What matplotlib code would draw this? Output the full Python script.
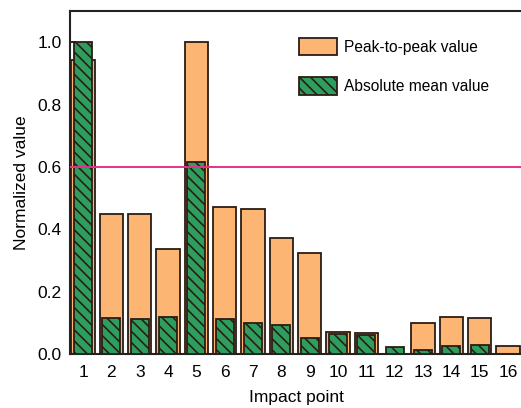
import matplotlib
matplotlib.use("Agg")
import matplotlib.pyplot as plt
import numpy as np
from matplotlib.patches import Patch

plt.rcParams["font.family"] = ["Liberation Sans", "DejaVu Sans"]
plt.rcParams["hatch.linewidth"] = 1.2

# Normalized vibration features per impact point
points = np.arange(1, 17)
peak_to_peak = [0.942, 0.449, 0.449, 0.336, 1.0, 0.470, 0.466, 0.373,
                0.323, 0.071, 0.066, 0.0, 0.100, 0.118, 0.115, 0.024]
abs_mean = [1.0, 0.115, 0.112, 0.120, 0.617, 0.111, 0.100, 0.094,
            0.050, 0.065, 0.061, 0.023, 0.013, 0.024, 0.030, 0.0]
threshold = 0.6

ORANGE = "#FDB574"
GREEN = "#2E9E5F"
EDGE = "#2B1D14"
PINK = "#E8308A"

fig = plt.figure(figsize=(5.21, 4.08), dpi=100)
ax = fig.add_axes([0.1344, 0.1324, 0.8695, 0.8407])

ax.bar(points, peak_to_peak, width=0.82, color=ORANGE, edgecolor=EDGE,
       linewidth=1.3, zorder=2)
ax.bar(points, abs_mean, width=0.64, color=GREEN, edgecolor=EDGE,
       linewidth=1.3, hatch="\\\\\\", zorder=3)
ax.axhline(threshold, color=PINK, linewidth=1.4, zorder=4)

ax.set_xlim(0.54, 16.53)
ax.set_ylim(0, 1.10)
ax.set_xticks(points)
ax.set_yticks([0.0, 0.2, 0.4, 0.6, 0.8, 1.0])
ax.set_yticklabels(["0.0", "0.2", "0.4", "0.6", "0.8", "1.0"])
ax.tick_params(axis="y", direction="in", length=4, width=1.2, labelsize=12.5, pad=6)
ax.tick_params(axis="x", length=0, labelsize=12.5, pad=8)
ax.spines["right"].set_visible(False)
for s in ("left", "top", "bottom"):
    ax.spines[s].set_linewidth(1.5)
    ax.spines[s].set_color("#222222")

ax.set_xlabel("Impact point", fontsize=12.5, labelpad=7)
ax.set_ylabel("Normalized value", fontsize=12.5, labelpad=6)

handles = [
    Patch(facecolor=ORANGE, edgecolor=EDGE, linewidth=1.3, label="Peak-to-peak value"),
    Patch(facecolor=GREEN, edgecolor=EDGE, linewidth=1.3, hatch="\\\\\\",
          label="Absolute mean value"),
]
ax.legend(handles=handles, loc="upper left", bbox_to_anchor=(0.475, 0.962),
          frameon=False, fontsize=11.2, handlelength=2.4, handleheight=1.35,
          labelspacing=1.4, handletextpad=0.45)

fig.savefig("out.png", dpi=100)
